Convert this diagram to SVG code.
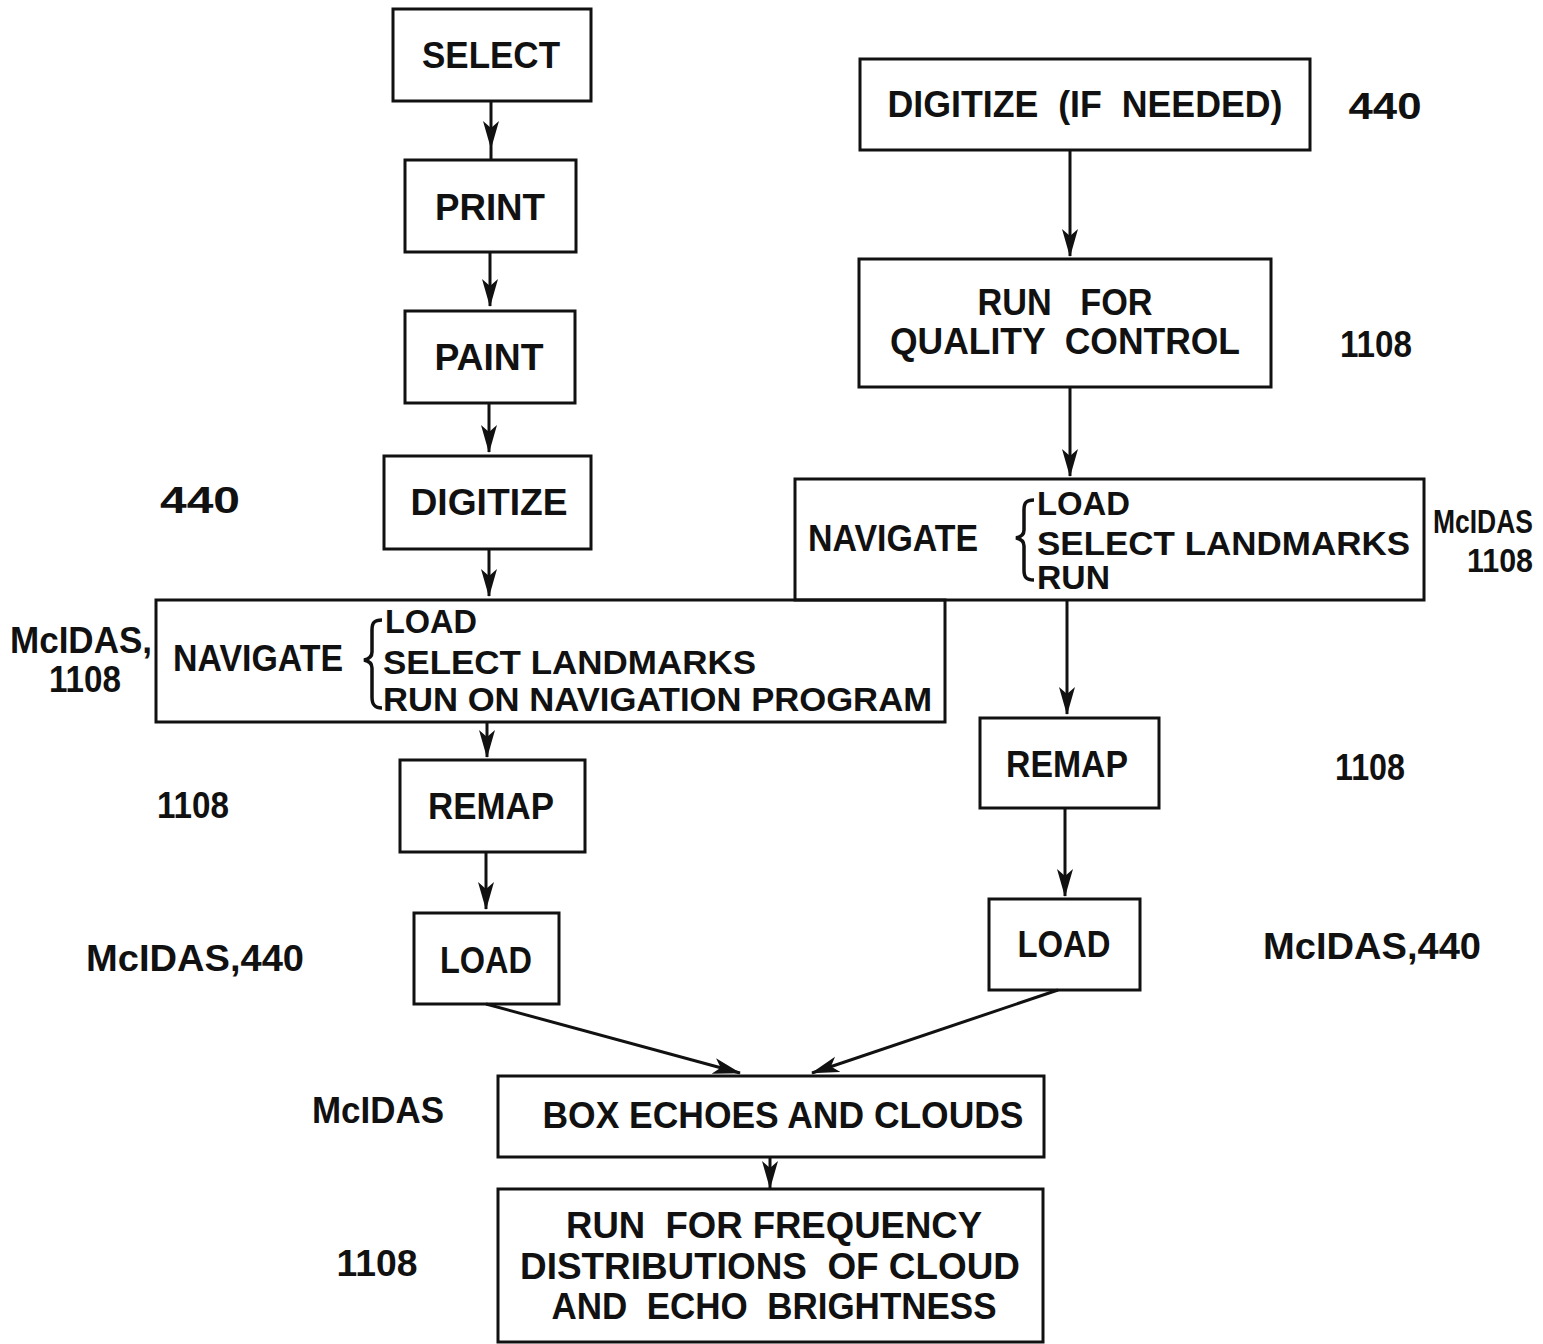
<svg xmlns="http://www.w3.org/2000/svg" width="1543" height="1344" viewBox="0 0 1543 1344">
<style>
.box{fill:none;stroke:#111;stroke-width:3}
.t{font-family:"Liberation Sans",Arial,sans-serif;font-size:36px;font-weight:bold;fill:#111;text-anchor:middle;white-space:pre}
.l{font-family:"Liberation Sans",Arial,sans-serif;font-size:36px;font-weight:bold;fill:#111;text-anchor:start}
.s{font-size:33px}
.c{fill:none;stroke:#111;stroke-width:3}
</style>
<defs>
<marker id="ah" markerUnits="userSpaceOnUse" markerWidth="28" markerHeight="18" viewBox="0 0 28 18" refX="27" refY="9" orient="auto">
<path d="M0,1 L28,9 L0,17 L7,9 Z" fill="#111"/>
</marker>
</defs>
<rect width="1543" height="1344" fill="#fff"/>

<g id="select"><rect class="box" x="393" y="9" width="198" height="92"/><text class="t" x="491" y="68" textLength="138" lengthAdjust="spacingAndGlyphs">SELECT</text></g>
<g id="print"><rect class="box" x="405" y="160" width="171" height="92"/><text class="t" x="490" y="220" textLength="110" lengthAdjust="spacingAndGlyphs">PRINT</text></g>
<g id="paint"><rect class="box" x="405" y="311" width="170" height="92"/><text class="t" x="489" y="370" textLength="109" lengthAdjust="spacingAndGlyphs">PAINT</text></g>
<g id="digitize-left"><rect class="box" x="384" y="456" width="207" height="93"/><text class="t" x="489" y="515" textLength="157" lengthAdjust="spacingAndGlyphs">DIGITIZE</text></g>
<g id="navigate-left"><rect class="box" x="156" y="600" width="789" height="122"/>
<text class="l" x="173" y="671" textLength="170" lengthAdjust="spacingAndGlyphs">NAVIGATE</text>
<path d="M382,620 C374,620 372,623 372,630 L372,652 C372,657 369,659 364,660 C369,661 372,663 372,668 L372,697 C372,704 374,708 382,708" fill="none" stroke="#111" stroke-width="3.5"/>
<text class="l s" x="385" y="633" textLength="92" lengthAdjust="spacingAndGlyphs">LOAD</text>
<text class="l s" x="383" y="674" textLength="373" lengthAdjust="spacingAndGlyphs">SELECT LANDMARKS</text>
<text class="l s" x="383" y="711" textLength="549" lengthAdjust="spacingAndGlyphs">RUN ON NAVIGATION PROGRAM</text></g>
<g id="remap-left"><rect class="box" x="400" y="760" width="185" height="92"/><text class="t" x="491" y="819" textLength="126" lengthAdjust="spacingAndGlyphs">REMAP</text></g>
<g id="load-left"><rect class="box" x="414" y="913" width="145" height="91"/><text class="t" x="486" y="973" textLength="92" lengthAdjust="spacingAndGlyphs">LOAD</text></g>
<g id="box-echoes"><rect class="box" x="498" y="1076" width="546" height="81"/><text class="t" x="783" y="1128" textLength="481" lengthAdjust="spacingAndGlyphs">BOX ECHOES AND CLOUDS</text></g>
<g id="run-frequency"><rect class="box" x="498" y="1189" width="545" height="153"/>
<text class="t" x="774" y="1238" textLength="416" lengthAdjust="spacingAndGlyphs">RUN  FOR FREQUENCY</text>
<text class="t" x="770" y="1279" textLength="500" lengthAdjust="spacingAndGlyphs">DISTRIBUTIONS  OF CLOUD</text>
<text class="t" x="774" y="1319" textLength="445" lengthAdjust="spacingAndGlyphs">AND  ECHO  BRIGHTNESS</text></g>

<g id="digitize-right"><rect class="box" x="860" y="59" width="450" height="91"/><text class="t" x="1085" y="117" textLength="395" lengthAdjust="spacingAndGlyphs">DIGITIZE  (IF  NEEDED)</text></g>
<g id="quality-control"><rect class="box" x="859" y="259" width="412" height="128"/>
<text class="t" x="1065" y="315" textLength="175" lengthAdjust="spacingAndGlyphs">RUN   FOR</text>
<text class="t" x="1065" y="354" textLength="350" lengthAdjust="spacingAndGlyphs">QUALITY  CONTROL</text></g>
<g id="navigate-right"><rect class="box" x="795" y="479" width="629" height="121"/>
<text class="l" x="808" y="551" textLength="170" lengthAdjust="spacingAndGlyphs">NAVIGATE</text>
<path d="M1034,500 C1026,500 1024,503 1024,510 L1024,530 C1024,535 1021,537 1016,538 C1021,539 1024,541 1024,546 L1024,570 C1024,577 1026,580 1034,580" fill="none" stroke="#111" stroke-width="3.5"/>
<text class="l s" x="1037" y="515" textLength="93" lengthAdjust="spacingAndGlyphs">LOAD</text>
<text class="l s" x="1037" y="555" textLength="373" lengthAdjust="spacingAndGlyphs">SELECT LANDMARKS</text>
<text class="l s" x="1037" y="589" textLength="73" lengthAdjust="spacingAndGlyphs">RUN</text></g>
<g id="remap-right"><rect class="box" x="980" y="718" width="179" height="90"/><text class="t" x="1067" y="777" textLength="122" lengthAdjust="spacingAndGlyphs">REMAP</text></g>
<g id="load-right"><rect class="box" x="989" y="899" width="151" height="91"/><text class="t" x="1064" y="957" textLength="93" lengthAdjust="spacingAndGlyphs">LOAD</text></g>

<g id="labels">
<text class="t" x="1385" y="119" textLength="73" lengthAdjust="spacingAndGlyphs">440</text>
<text class="t" x="1376" y="357" textLength="72" lengthAdjust="spacingAndGlyphs">1108</text>
<text class="l s" x="1433" y="533" textLength="100" lengthAdjust="spacingAndGlyphs">McIDAS</text>
<text class="t s" x="1500" y="572" textLength="66" lengthAdjust="spacingAndGlyphs">1108</text>
<text class="t" x="1370" y="780" textLength="70" lengthAdjust="spacingAndGlyphs">1108</text>
<text class="t" x="1372" y="959" textLength="218" lengthAdjust="spacingAndGlyphs">McIDAS,440</text>
<text class="t" x="200" y="513" textLength="80" lengthAdjust="spacingAndGlyphs">440</text>
<text class="l" x="10" y="653" textLength="142" lengthAdjust="spacingAndGlyphs">McIDAS,</text>
<text class="t" x="85" y="692" textLength="72" lengthAdjust="spacingAndGlyphs">1108</text>
<text class="t" x="193" y="818" textLength="72" lengthAdjust="spacingAndGlyphs">1108</text>
<text class="t" x="195" y="971" textLength="218" lengthAdjust="spacingAndGlyphs">McIDAS,440</text>
<text class="t" x="378" y="1123" textLength="132" lengthAdjust="spacingAndGlyphs">McIDAS</text>
<text class="t" x="377" y="1276" textLength="81" lengthAdjust="spacingAndGlyphs">1108</text>
</g>

<g id="connectors">
<line class="c" x1="491" y1="101" x2="491" y2="148" marker-end="url(#ah)"/>
<line class="c" x1="491" y1="148" x2="491" y2="159"/>
<line class="c" x1="490" y1="252" x2="490" y2="306" marker-end="url(#ah)"/>
<line class="c" x1="489" y1="403" x2="489" y2="452" marker-end="url(#ah)"/>
<line class="c" x1="489" y1="549" x2="489" y2="596" marker-end="url(#ah)"/>
<line class="c" x1="487" y1="722" x2="487" y2="757" marker-end="url(#ah)"/>
<line class="c" x1="486" y1="852" x2="486" y2="909" marker-end="url(#ah)"/>
<line class="c" x1="486" y1="1004" x2="740" y2="1073" marker-end="url(#ah)"/>
<line class="c" x1="1058" y1="990" x2="812" y2="1073" marker-end="url(#ah)"/>
<line class="c" x1="770" y1="1157" x2="770" y2="1188" marker-end="url(#ah)"/>
<line class="c" x1="1070" y1="150" x2="1070" y2="256" marker-end="url(#ah)"/>
<line class="c" x1="1070" y1="387" x2="1070" y2="476" marker-end="url(#ah)"/>
<line class="c" x1="1067" y1="600" x2="1067" y2="714" marker-end="url(#ah)"/>
<line class="c" x1="1065" y1="808" x2="1065" y2="896" marker-end="url(#ah)"/>
</g>
</svg>
